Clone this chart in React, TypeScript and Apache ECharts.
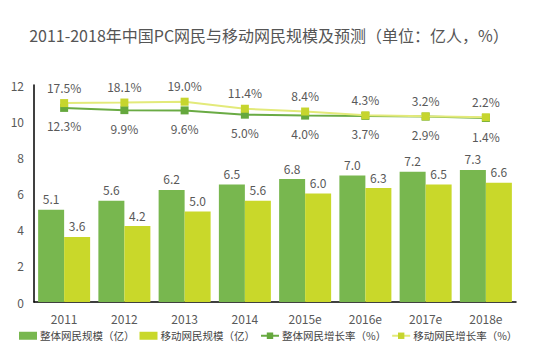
import React, { useEffect, useRef } from "react";
import * as echarts from "echarts";

const categories = ["2011", "2012", "2013", "2014", "2015e", "2016e", "2017e", "2018e"];
const totalUsers = [5.1, 5.6, 6.2, 6.5, 6.8, 7.0, 7.2, 7.3];
const mobileUsers = [3.6, 4.2, 5.0, 5.6, 6.0, 6.3, 6.5, 6.6];
const totalGrowth = [12.3, 9.9, 9.6, 5.0, 4.0, 3.7, 2.9, 1.4];
const mobileGrowth = [17.5, 18.1, 19.0, 11.4, 8.4, 4.3, 3.2, 2.2];
const yTicks = [0, 2, 4, 6, 8, 10, 12];

const GREEN = "#78b74f";
const YELLOW = "#c9d82a";
const TEXT = "#595959";
const FONT = "'Noto Sans CJK SC', 'Noto Sans', sans-serif";

export default function App() {
  const ref = useRef<HTMLDivElement>(null);
  useEffect(() => {
    if (!ref.current) return;
    const chart = echarts.init(ref.current, null, { renderer: "svg" });
    chart.setOption({
      animation: false,
      backgroundColor: "#ffffff",
      textStyle: { fontFamily: FONT },
      title: {
        text: "2011-2018年中国PC网民与移动网民规模及预测（单位：亿人，%）",
        left: "center",
        top: 22,
        textStyle: { fontSize: 16, fontWeight: "normal", color: "#555", fontFamily: FONT },
      },
      legend: {
        bottom: 8,
        left: 14,
        right: 0,
        itemWidth: 18,
        itemHeight: 8,
        itemGap: 5,
        textStyle: { fontSize: 10.5, color: "#444", fontFamily: FONT, padding: [0, 0, 0, -2] },
        data: [
          { name: "整体网民规模（亿）", icon: "rect" },
          { name: "移动网民规模（亿）", icon: "rect" },
          { name: "整体网民增长率（%）" },
          { name: "移动网民增长率（%）" },
        ],
      },
      grid: { left: 34, right: 22, top: 85, bottom: 52 },
      xAxis: {
        type: "category",
        data: categories,
        axisLine: { lineStyle: { color: "#000", width: 1.5 } },
        axisTick: { show: false },
        axisLabel: { color: TEXT, fontSize: 12, margin: 10 },
      },
      yAxis: [
        {
          type: "value",
          min: yTicks[0],
          max: yTicks[yTicks.length - 1],
          interval: 2,
          axisLine: { show: true, lineStyle: { color: "#000", width: 1.5 } },
          axisTick: { show: false },
          splitLine: { show: false },
          axisLabel: { color: TEXT, fontSize: 12, margin: 10 },
        },
        {
          type: "value",
          min: -197,
          max: 37,
          show: false,
          splitLine: { show: false },
        },
      ],
      series: [
        {
          name: "整体网民规模（亿）",
          type: "bar",
          data: totalUsers,
          barWidth: 26,
          barGap: "0%",
          itemStyle: { color: GREEN },
          label: { show: true, position: "top", color: TEXT, fontSize: 12, formatter: (p: any) => p.value.toFixed(1) },
        },
        {
          name: "移动网民规模（亿）",
          type: "bar",
          data: mobileUsers,
          barWidth: 26,
          barGap: "0%",
          itemStyle: { color: YELLOW },
          label: { show: true, position: "top", color: TEXT, fontSize: 12, formatter: (p: any) => p.value.toFixed(1) },
        },
        {
          name: "整体网民增长率（%）",
          type: "line",
          yAxisIndex: 1,
          data: totalGrowth,
          symbol: "rect",
          symbolSize: 8,
          lineStyle: { color: "#6aab44", width: 2 },
          itemStyle: { color: "#65a83d" },
          label: { show: true, position: "bottom", distance: 8, color: TEXT, fontSize: 12, formatter: (p: any) => p.value.toFixed(1) + "%" },
          z: 5,
        },
        {
          name: "移动网民增长率（%）",
          type: "line",
          yAxisIndex: 1,
          data: mobileGrowth,
          symbol: "rect",
          symbolSize: 8,
          lineStyle: { color: "#e3ea7a", width: 2 },
          itemStyle: { color: "#c6d52e" },
          label: { show: true, position: "top", distance: 6, color: TEXT, fontSize: 12, formatter: (p: any) => p.value.toFixed(1) + "%" },
          z: 6,
        },
      ],
    });
    return () => chart.dispose();
  }, []);
  return <div ref={ref} style={{ width: 538, height: 354, position: "absolute", left: 0, top: 0 }} />;
}
